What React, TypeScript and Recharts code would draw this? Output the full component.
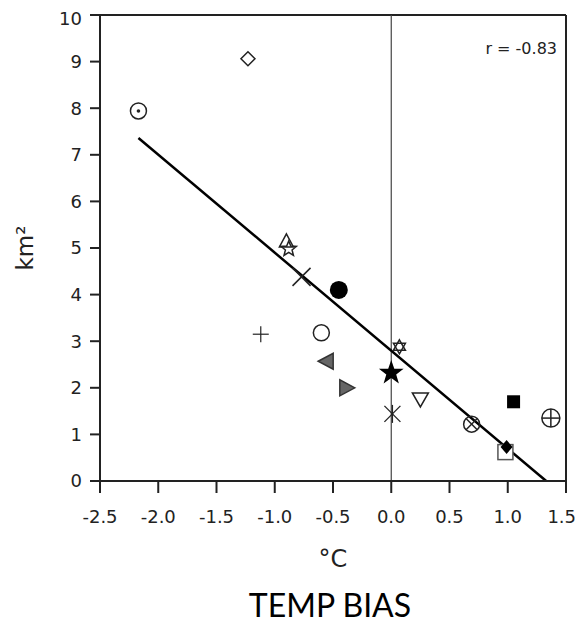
import { ScatterChart, Scatter, XAxis, YAxis, ReferenceLine } from 'recharts';

const tempBias = [-1.23, -2.17, -0.9, -0.88, -0.77, -0.45, -1.12, -0.6, -0.55, -0.39, 0.0, 0.07, 0.01, 0.25, 0.69, 1.05, 1.37, 0.98, 0.99];
const areaKm2 = [9.06, 7.94, 5.13, 4.98, 4.38, 4.1, 3.15, 3.18, 2.57, 2.0, 2.32, 2.88, 1.44, 1.76, 1.22, 1.7, 1.35, 0.62, 0.73];
const markerKinds = [
  'diamond', 'circleDot', 'triUp', 'starOpen', 'cross', 'filledCircle', 'plus', 'openCircle',
  'triLeft', 'triRight', 'filledStar', 'hexStar', 'asterisk', 'triDown', 'circleX',
  'filledSquare', 'circlePlus', 'openSquare', 'filledDiamond',
];

const xTicks = [-2.5, -2.0, -1.5, -1.0, -0.5, 0.0, 0.5, 1.0, 1.5];
const yTicks = [0, 1, 2, 3, 4, 5, 6, 7, 8, 9, 10];

// fitted line end points
const fitX = [-2.17, 1.33];
const fitY = [7.36, 0];
const rText = 'r = -0.83';

const points = tempBias.map((x, i) => ({ x, y: areaKm2[i], kind: markerKinds[i] }));

const INK = '#222';

function starPts(cx: number, cy: number, n: number, ro: number, ri: number) {
  const pts: string[] = [];
  for (let i = 0; i < n * 2; i++) {
    const r = i % 2 === 0 ? ro : ri;
    const a = -Math.PI / 2 + (i * Math.PI) / n;
    pts.push(`${cx + r * Math.cos(a)},${cy + r * Math.sin(a)}`);
  }
  return pts.join(' ');
}

function Marker(props: any) {
  const { cx, cy, payload } = props;
  const s = { stroke: INK, strokeWidth: 1.5, fill: 'none' };
  switch (payload.kind) {
    case 'diamond':
      return <polygon points={`${cx},${cy - 7} ${cx + 7},${cy} ${cx},${cy + 7} ${cx - 7},${cy}`} {...s} />;
    case 'circleDot':
      return (
        <g>
          <circle cx={cx} cy={cy} r={8} {...s} />
          <circle cx={cx} cy={cy} r={1.8} fill={INK} />
        </g>
      );
    case 'triUp':
      return <polygon points={`${cx},${cy - 8} ${cx + 7},${cy + 5} ${cx - 7},${cy + 5}`} {...s} />;
    case 'starOpen':
      return <polygon points={starPts(cx, cy, 5, 8, 3.5)} {...s} />;
    case 'cross':
      return (
        <g {...s}>
          <line x1={cx - 9} y1={cy + 9} x2={cx + 9} y2={cy - 9} />
          <line x1={cx - 9} y1={cy - 9} x2={cx + 9} y2={cy + 9} />
        </g>
      );
    case 'filledCircle':
      return <circle cx={cx} cy={cy} r={9} fill="#000" />;
    case 'plus':
      return (
        <g stroke={INK} strokeWidth={1.2}>
          <line x1={cx - 8} y1={cy} x2={cx + 8} y2={cy} />
          <line x1={cx} y1={cy - 8} x2={cx} y2={cy + 8} />
        </g>
      );
    case 'openCircle':
      return <circle cx={cx} cy={cy} r={8} {...s} />;
    case 'triLeft':
      return <polygon points={`${cx - 9},${cy} ${cx + 6},${cy - 8} ${cx + 6},${cy + 8}`} fill="#666" stroke="#333" strokeWidth={1.5} />;
    case 'triRight':
      return <polygon points={`${cx + 9},${cy} ${cx - 6},${cy - 8} ${cx - 6},${cy + 8}`} fill="#666" stroke="#333" strokeWidth={1.5} />;
    case 'filledStar':
      return <polygon points={starPts(cx, cy, 5, 13, 5.2)} fill="#000" />;
    case 'hexStar':
      return (
        <g {...s}>
          <polygon points={`${cx},${cy - 7} ${cx + 6},${cy + 3.5} ${cx - 6},${cy + 3.5}`} />
          <polygon points={`${cx},${cy + 7} ${cx + 6},${cy - 3.5} ${cx - 6},${cy - 3.5}`} />
        </g>
      );
    case 'asterisk':
      return (
        <g stroke={INK} strokeWidth={1.3}>
          <line x1={cx - 8} y1={cy - 8} x2={cx + 8} y2={cy + 8} />
          <line x1={cx - 8} y1={cy + 8} x2={cx + 8} y2={cy - 8} />
          <line x1={cx} y1={cy - 9} x2={cx} y2={cy + 9} />
        </g>
      );
    case 'triDown':
      return <polygon points={`${cx - 8},${cy - 6} ${cx + 8},${cy - 6} ${cx},${cy + 8}`} {...s} />;
    case 'circleX':
      return (
        <g {...s}>
          <circle cx={cx} cy={cy} r={8} />
          <line x1={cx - 5.6} y1={cy - 5.6} x2={cx + 5.6} y2={cy + 5.6} />
          <line x1={cx - 5.6} y1={cy + 5.6} x2={cx + 5.6} y2={cy - 5.6} />
        </g>
      );
    case 'filledSquare':
      return <rect x={cx - 6.5} y={cy - 6.5} width={13} height={13} fill="#000" />;
    case 'circlePlus':
      return (
        <g {...s}>
          <circle cx={cx} cy={cy} r={9} />
          <line x1={cx - 9} y1={cy} x2={cx + 9} y2={cy} />
          <line x1={cx} y1={cy - 9} x2={cx} y2={cy + 9} />
        </g>
      );
    case 'openSquare':
      return <rect x={cx - 7.5} y={cy - 7.5} width={15} height={15} fill="#fff" stroke="#555" strokeWidth={1.5} />;
    case 'filledDiamond':
      return <polygon points={`${cx},${cy - 7} ${cx + 6},${cy} ${cx},${cy + 7} ${cx - 6},${cy}`} fill="#000" />;
    default:
      return <circle cx={cx} cy={cy} r={4} fill={INK} />;
  }
}

const tickStyle = { fontFamily: 'DejaVu Sans', fontSize: 18, fill: '#222' };

export default function App() {
  return (
    <div style={{ position: 'relative', width: 565, height: 607, padding: 8 }}>
      <style>{'body { margin: 0; } svg.recharts-surface { overflow: visible; }'}</style>
      <ScatterChart width={565} height={570} margin={{ top: 7, right: 7, left: 0, bottom: 0 }}>
        <XAxis
          type="number"
          dataKey="x"
          domain={[-2.5, 1.5]}
          ticks={xTicks}
          tickFormatter={(v: number) => v.toFixed(1)}
          tick={tickStyle}
          tickSize={12}
          tickMargin={17}
          stroke={INK}
          strokeWidth={2}
          height={97}
          label={{ value: '°C', position: 'insideTop', offset: 69, style: { fontFamily: 'DejaVu Sans', fontSize: 24, fill: '#222' } }}
        />
        <YAxis
          type="number"
          dataKey="y"
          domain={[0, 10]}
          ticks={yTicks}
          tick={tickStyle}
          tickSize={10}
          tickMargin={8}
          stroke={INK}
          strokeWidth={2}
          width={92}
          label={{ value: 'km²', angle: -90, position: 'insideLeft', offset: 17, style: { fontFamily: 'DejaVu Sans', fontSize: 23, fill: '#222', textAnchor: 'middle' } }}
        />
        <ReferenceLine
          y={10}
          stroke={INK}
          strokeWidth={2}
          label={(p: any) => (
            <text
              x={p.viewBox.x + p.viewBox.width - 9}
              y={p.viewBox.y + 39}
              textAnchor="end"
              fontFamily="DejaVu Sans"
              fontSize={16}
              fill="#222"
            >
              {rText}
            </text>
          )}
        />
        <ReferenceLine x={1.5} stroke={INK} strokeWidth={2} />
        <ReferenceLine x={0} stroke="#444" strokeWidth={1.2} />
        <ReferenceLine
          segment={[{ x: fitX[0], y: fitY[0] }, { x: fitX[1], y: fitY[1] }]}
          stroke="#000"
          strokeWidth={2.5}
          ifOverflow="visible"
        />
        <Scatter data={points} shape={Marker} isAnimationActive={false} />
      </ScatterChart>
      <div
        style={{
          position: 'absolute',
          left: 79,
          top: 587,
          width: 502,
          textAlign: 'center',
          fontFamily: 'Lato',
          fontSize: 32,
          color: '#000',
          lineHeight: '36px',
          whiteSpace: 'nowrap',
        }}
      >
        TEMP BIAS
      </div>
    </div>
  );
}
